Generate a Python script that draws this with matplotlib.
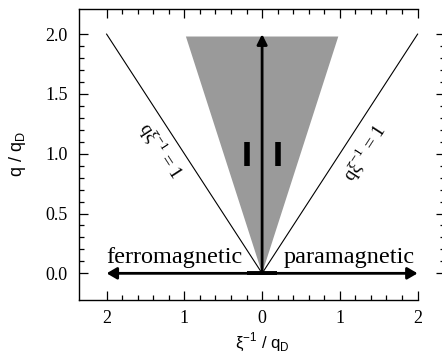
import matplotlib
matplotlib.use('Agg')
import matplotlib.pyplot as plt
import numpy as np
from matplotlib.ticker import FixedLocator, FixedFormatter

# ---- data ----
x_ticks = [-2, -1, 0, 1, 2]
x_tick_labels = ['2', '1', '0', '1', '2']
y_ticks = [0.0, 0.5, 1.0, 1.5, 2.0]
y_tick_labels = ['0.0', '0.5', '1.0', '1.5', '2.0']

left_line_x = [-2, 0]
left_line_y = [2, 0]
right_line_x = [0, 2]
right_line_y = [0, 2]

wedge_x = [0, -0.98, 0.98]
wedge_y = [0, 1.98, 1.98]

h_arrow_x = [-2, 2]
h_arrow_y = 0.0
v_arrow_x = 0.0
v_arrow_y = [0, 2]

thick_seg_x = [-0.19, 0.19]
bar_left_x = -0.2
bar_right_x = 0.2
bar_y = [0.9, 1.1]

region_labels = ['ferromagnetic', 'paramagnetic']
region_label_x = [-1.13, 1.12]
region_label_y = 0.09

line_label = 'qξ$^{\\mathregular{−1}}$ = 1'
line_label_pos = [(-1.31, 1.025), (1.32, 1.01)]
line_label_rot = [-57, 57]

# ---- figure ----
fig = plt.figure(figsize=(4.42, 3.58), dpi=100)
W, H = 442, 358
ax = fig.add_axes([79 / W, 1 - 300 / H, (445.2 - 79) / W, 291 / H])
ax.set_xlim(-2.355, 2.355)
ax.set_ylim(-0.223, 2.21)

serif = 'Liberation Serif'
sans = 'Liberation Sans'

ax.fill(wedge_x, wedge_y, color='#9a9a9a', lw=0, zorder=1)
ax.plot(left_line_x, left_line_y, color='black', lw=0.8, zorder=2)
ax.plot(right_line_x, right_line_y, color='black', lw=0.8, zorder=2)

ax.annotate('', xy=(h_arrow_x[1], h_arrow_y), xytext=(h_arrow_x[0], h_arrow_y),
            arrowprops=dict(arrowstyle='<|-|>,head_length=0.6,head_width=0.35',
                            mutation_scale=10, lw=2, color='black',
                            shrinkA=0, shrinkB=0), zorder=3)
ax.annotate('', xy=(v_arrow_x, v_arrow_y[1]), xytext=(v_arrow_x, v_arrow_y[0]),
            arrowprops=dict(arrowstyle='-|>,head_length=0.6,head_width=0.3',
                            mutation_scale=10, lw=2, color='black',
                            shrinkA=0, shrinkB=0), zorder=3)
ax.plot(thick_seg_x, [h_arrow_y, h_arrow_y], color='black', lw=2.8,
        solid_capstyle='butt', zorder=3)
ax.plot([bar_left_x, bar_left_x], bar_y, color='black', lw=4,
        solid_capstyle='butt', zorder=3)
ax.plot([bar_right_x, bar_right_x], bar_y, color='black', lw=4,
        solid_capstyle='butt', zorder=3)

for lab, lx in zip(region_labels, region_label_x):
    ax.text(lx, region_label_y, lab, family=serif, fontsize=17.5,
            ha='center', va='baseline', zorder=4)

for (px, py), rot in zip(line_label_pos, line_label_rot):
    ax.text(px, py, line_label, family=serif, fontsize=13.5, rotation=rot,
            rotation_mode='anchor', ha='center', va='center', zorder=4)

# ---- axes styling ----
ax.spines['right'].set_visible(False)
ax.spines['top'].set_bounds(-2.355, 2)
ax.spines['bottom'].set_bounds(-2.355, 2)
for s in ax.spines.values():
    s.set_linewidth(1.0)

x_minor = [v for v in np.round(np.linspace(-2, 2, 21), 2) if v not in x_ticks]
y_minor = [v for v in np.round(np.linspace(0, 2, 21), 2) if v not in y_ticks]

ax.xaxis.set_major_locator(FixedLocator(x_ticks))
ax.xaxis.set_major_formatter(FixedFormatter(x_tick_labels))
ax.xaxis.set_minor_locator(FixedLocator(x_minor))
ax.yaxis.set_major_locator(FixedLocator(y_ticks))
ax.yaxis.set_major_formatter(FixedFormatter(y_tick_labels))
ax.yaxis.set_minor_locator(FixedLocator(y_minor))

ax.tick_params(which='both', direction='in', top=True, right=True,
               labeltop=False, labelright=False, width=0.9)
ax.tick_params(which='major', length=6.8)
ax.tick_params(which='minor', length=3.6)
ax.tick_params(axis='x', which='major', pad=7)
ax.tick_params(axis='y', which='major', pad=8)
for lab in ax.get_xticklabels() + ax.get_yticklabels():
    lab.set_family(serif)
    lab.set_fontsize(13)

ax.set_xlabel('ξ$^{\\mathregular{−1}}$ / q$_\\mathregular{D}$', family=sans, fontsize=12)
ax.set_ylabel('q / q$_\\mathregular{D}$', family=sans, fontsize=13)
ax.xaxis.set_label_coords(0.5, -0.105)
ax.yaxis.set_label_coords(-0.139, 0.5)
ax.xaxis.label.set_va('top')

fig.savefig('out.png', dpi=100)
